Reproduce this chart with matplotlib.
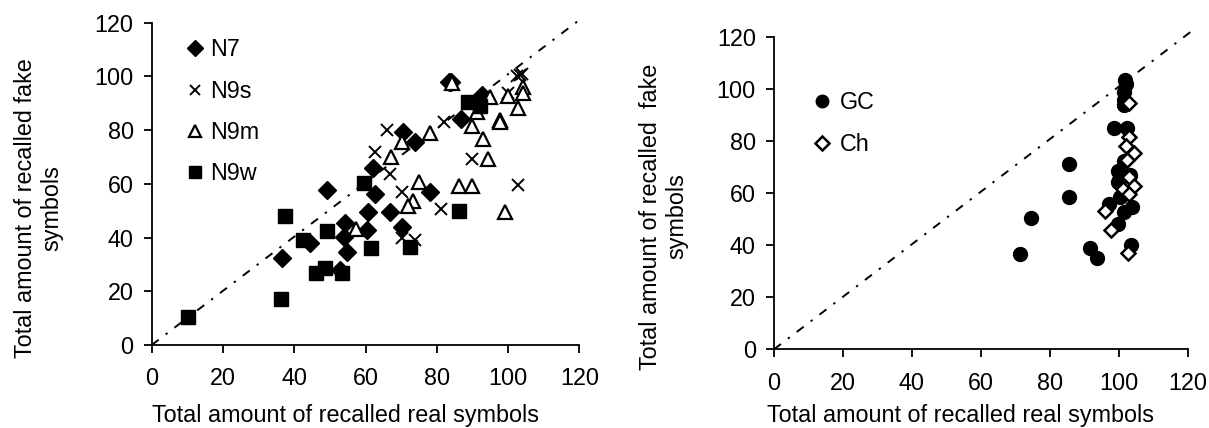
import matplotlib
matplotlib.use("Agg")
import matplotlib.pyplot as plt
from matplotlib.lines import Line2D

plt.rcParams['font.family'] = ['Liberation Sans', 'DejaVu Sans']

# ---- Left panel data (real, fake) ----
n7_x = [83.3, 84.0, 92.6, 86.7, 70.6, 73.9, 62.2, 49.1, 62.7, 78.1, 60.8, 66.9, 60.3, 70.2, 54.3, 54.0, 54.7, 44.4, 52.9, 36.5]
n7_y = [98.0, 98.0, 93.1, 84.0, 79.2, 75.7, 66.0, 57.7, 56.1, 56.8, 49.6, 49.6, 42.8, 43.8, 45.5, 40.3, 34.7, 37.8, 27.9, 32.3]

n9s_x = [103.4, 103.9, 102.6, 100.1, 81.9, 65.9, 62.7, 66.9, 89.8, 70.2, 81.2, 102.7, 70.2, 73.9]
n9s_y = [100.5, 101.0, 100.0, 93.7, 83.1, 80.0, 71.7, 63.6, 69.1, 56.8, 50.5, 59.6, 39.7, 39.1]

n9m_x = [84.2, 94.9, 91.2, 100.1, 104.1, 104.3, 102.7, 97.8, 97.8, 89.8, 78.1, 70.2, 92.9, 67.1, 94.3, 75.1, 86.1, 89.8, 99.2, 73.2, 72.0, 57.3]
n9m_y = [97.4, 92.2, 86.8, 92.8, 95.9, 93.9, 88.1, 83.7, 83.0, 81.5, 78.8, 75.7, 76.6, 70.1, 69.2, 60.8, 59.3, 59.3, 49.6, 53.6, 51.7, 43.1]

n9w_x = [88.9, 92.1, 59.6, 86.3, 37.4, 49.3, 42.6, 61.5, 72.5, 46.1, 48.6, 53.3, 36.3, 10.3]
n9w_y = [90.6, 89.0, 60.4, 49.9, 48.0, 42.4, 39.1, 36.0, 36.6, 26.7, 28.5, 26.7, 17.0, 10.5]

# ---- Right panel data ----
gc_x = [101.8, 102.0, 101.6, 101.6, 101.4, 98.5, 102.3, 85.7, 101.4, 99.9, 100.2, 99.7, 103.3, 85.7, 100.4, 97.3, 101.6, 103.8, 99.7, 74.6, 91.7, 93.8, 103.5, 71.4]
gc_y = [103.3, 102.0, 98.8, 95.7, 93.7, 84.8, 84.8, 71.0, 72.4, 68.5, 65.0, 64.3, 66.9, 58.6, 58.6, 55.8, 52.8, 54.7, 48.1, 50.5, 39.0, 35.2, 40.0, 36.6]

ch_x = [103.0, 103.0, 102.0, 104.3, 102.3, 103.0, 104.3, 101.2, 103.0, 96.0, 97.8, 102.8]
ch_y = [94.6, 81.6, 78.1, 75.2, 72.6, 66.2, 62.7, 61.4, 59.6, 53.1, 45.8, 36.8]

ticks = [0, 20, 40, 60, 80, 100, 120]
xlabel = "Total amount of recalled real symbols"
ylabel_left = "Total amount of recalled fake\nsymbols"
ylabel_right = "Total amount of recalled  fake\nsymbols"

W, H = 1209, 428
fig = plt.figure(figsize=(W / 100, H / 100), dpi=100)

axL = fig.add_axes([151.7 / W, 1 - 345 / H, (579.3 - 151.7) / W, (345 - 22.7) / H])
axR = fig.add_axes([774 / W, 1 - 349.3 / H, (1187.7 - 774) / W, (349.3 - 36.7) / H])

FS = 16.8
diag_style = (0, (4.5, 4.5, 1.2, 4.5))

def style(ax):
    ax.set_xlim(0, 120)
    ax.set_ylim(0, 120)
    ax.set_xticks(ticks)
    ax.set_yticks(ticks)
    for s in ['top', 'right']:
        ax.spines[s].set_visible(False)
    for s in ['left', 'bottom']:
        ax.spines[s].set_linewidth(1.3)
    ax.tick_params(axis='both', direction='out', length=6, width=1.3, labelsize=FS)
    ax.tick_params(axis='x', pad=10)
    ax.tick_params(axis='y', pad=7)
    ax.set_xlabel(xlabel, fontsize=FS)
    ax.plot([0, 121], [0, 122], color='black', linestyle=diag_style, linewidth=1.4,
            clip_on=False, zorder=1)

style(axL)
style(axR)

# Left markers
axL.plot(n7_x, n7_y, linestyle='none', marker='D', ms=9, color='black', zorder=3)
axL.plot(n9s_x, n9s_y, linestyle='none', marker='x', ms=8, mew=1.4, color='black', zorder=3)
axL.plot(n9m_x, n9m_y, linestyle='none', marker='^', ms=10, mfc='white', mec='black', mew=1.6, zorder=3)
axL.plot(n9w_x, n9w_y, linestyle='none', marker='s', ms=10, color='black', zorder=3)

hL = [Line2D([], [], linestyle='none', marker='D', ms=8, color='black'),
      Line2D([], [], linestyle='none', marker='x', ms=7, mew=1.4, color='black'),
      Line2D([], [], linestyle='none', marker='^', ms=9, mfc='white', mec='black', mew=1.6),
      Line2D([], [], linestyle='none', marker='s', ms=9, color='black')]
axL.legend(hL, ['N7', 'N9s', 'N9m', 'N9w'], loc='upper left', frameon=False, fontsize=FS,
           handlelength=0.8, handletextpad=0.25, labelspacing=0.78,
           bbox_to_anchor=(0.058, 0.98), borderaxespad=0)

axL.set_ylabel(ylabel_left, fontsize=FS, linespacing=1.15)
axL.yaxis.set_label_coords(-0.207, 0.425)
axL.xaxis.set_label_coords(0.453, -0.183)

# Right markers
axR.plot(gc_x, gc_y, linestyle='none', marker='o', ms=10, color='black', zorder=3)
axR.plot(ch_x, ch_y, linestyle='none', marker='D', ms=7.5, mfc='white', mec='black', mew=1.8, zorder=4)

hR = [Line2D([], [], linestyle='none', marker='o', ms=9, color='black'),
      Line2D([], [], linestyle='none', marker='D', ms=7, mfc='white', mec='black', mew=1.8)]
axR.legend(hR, ['GC', 'Ch'], loc='upper left', frameon=False, fontsize=FS,
           handlelength=0.8, handletextpad=0.35, labelspacing=0.8,
           bbox_to_anchor=(0.072, 0.855), borderaxespad=0)

axR.set_ylabel(ylabel_right, fontsize=FS, linespacing=1.15)
axR.yaxis.set_label_coords(-0.208, 0.425)
axR.xaxis.set_label_coords(0.452, -0.175)

fig.savefig("out.png", dpi=100)
